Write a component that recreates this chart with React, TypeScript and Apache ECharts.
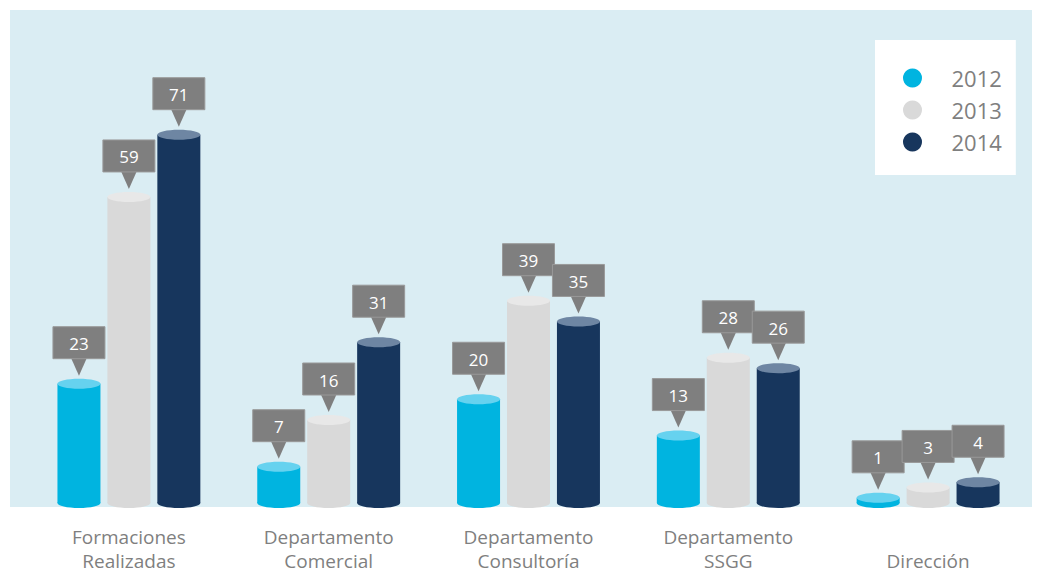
import React, { useEffect, useRef } from "react";
import * as echarts from "echarts";

const categories = [
  "Formaciones\nRealizadas",
  "Departamento\nComercial",
  "Departamento\nConsultoría",
  "Departamento\nSSGG",
  "Dirección",
];
const years = ["2012", "2013", "2014"];
const values2012 = [23, 7, 20, 13, 1];
const values2013 = [59, 16, 39, 28, 3];
const values2014 = [71, 31, 35, 26, 4];

const bodyColors = ["#00b4e0", "#d9d9d9", "#17365d"];
const topColors = ["#66d2ef", "#e8e8e8", "#6e86a3"];

export default function App() {
  const ref = useRef<HTMLDivElement>(null);

  useEffect(() => {
    if (!ref.current) return;
    const chart = echarts.init(ref.current, undefined, { renderer: "svg" });
    const seriesValues = [values2012, values2013, values2014];

    const makeRender = (idx: number) => (params: any, api: any) => {
      const cat = api.value(0);
      const val = api.value(1);
      const top = api.coord([cat, val]);
      const base = api.coord([cat, 0]);
      const band = api.size([1, 0])[0];
      const cx = top[0] + (idx - 1) * band * 0.25;
      const w = 43;
      const rx = w / 2;
      const ry = 5;
      const tip = top[1] - ry - 3;
      const boxBottom = tip - 17;
      const boxH = 32;
      const boxW = 52;
      return {
        type: "group",
        children: [
          {
            type: "ellipse",
            shape: { cx, cy: base[1], rx, ry },
            style: { fill: bodyColors[idx] },
          },
          {
            type: "rect",
            shape: { x: cx - rx, y: top[1], width: w, height: base[1] - top[1] },
            style: { fill: bodyColors[idx] },
          },
          {
            type: "ellipse",
            shape: { cx, cy: top[1], rx, ry },
            style: { fill: topColors[idx] },
          },
          {
            type: "polygon",
            z2: 100,
            shape: {
              points: [
                [cx - 8, boxBottom - 1],
                [cx + 8, boxBottom - 1],
                [cx, tip],
              ],
            },
            style: { fill: "#7f7f7f" },
          },
          {
            type: "rect",
            z2: 100,
            shape: { x: cx - boxW / 2, y: boxBottom - boxH, width: boxW, height: boxH },
            style: { fill: "#7f7f7f", stroke: "#999999", lineWidth: 1 },
          },
          {
            type: "text",
            z2: 101,
            style: {
              x: cx,
              y: boxBottom - boxH / 2 + 1,
              text: String(val),
              fill: "#ffffff",
              fontSize: 17,
              fontFamily: "Open Sans",
              align: "center",
              verticalAlign: "middle",
            },
          },
        ],
      };
    };

    chart.setOption({
      animation: false,
      backgroundColor: "#ffffff",
      graphic: [
        {
          type: "rect",
          z: -10,
          shape: { x: 10, y: 10, width: 1022, height: 497 },
          style: { fill: "#daedf3" },
        },
      ],
      legend: {
        data: years,
        orient: "vertical",
        left: 875,
        top: 40,
        backgroundColor: "#ffffff",
        padding: [27, 14, 22, 28],
        itemWidth: 68,
        itemHeight: 19,
        itemGap: 10,
        icon: "circle",
        textStyle: {
          fontSize: 22,
          lineHeight: 22,
          color: "#7f7f7f",
          fontFamily: "Open Sans",
        },
      },
      grid: {
        left: 29,
        right: 17,
        top: 88,
        bottom: 71,
        containLabel: false,
        outerBoundsMode: "none",
      },
      xAxis: {
        type: "category",
        data: categories,
        axisLine: { show: false },
        axisTick: { show: false },
        axisLabel: {
          color: "#7f7f7f",
          fontSize: 19,
          lineHeight: 24,
          margin: 22,
          fontFamily: "Open Sans",
          formatter: (v: string) => (v.indexOf("\n") >= 0 ? v : "\n" + v),
        },
      },
      yAxis: { type: "value", min: 0, max: 80, show: false },
      series: years.map((y, idx) => ({
        name: y,
        type: "custom",
        itemStyle: { color: bodyColors[idx] },
        encode: { x: 0, y: 1 },
        data: seriesValues[idx].map((v, i) => [i, v]),
        renderItem: makeRender(idx),
      })),
    });
    return () => chart.dispose();
  }, []);

  return (
    <div
      ref={ref}
      style={{ position: "fixed", left: 0, top: 0, width: 1045, height: 574 }}
    />
  );
}
